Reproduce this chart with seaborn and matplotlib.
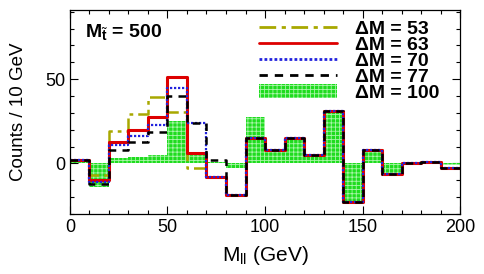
import numpy as np
import pandas as pd
import seaborn as sns
import matplotlib
matplotlib.use("Agg")
import matplotlib.pyplot as plt
from matplotlib.lines import Line2D
from matplotlib.patches import Patch

# bin edges (GeV) and per-bin counts
edges = list(range(0, 210, 10))
centers = [e + 5 for e in edges[:-1]]
tail = [15, 8, 15, 5, 31, -23, 8, -6, 0, 1, -3]  # 90-200 GeV, same for all lines
dm53 = [2, -7, 19, 29.5, 39.5, 30.5, -3, -8, -19] + tail
dm63 = [2, -10, 13, 20, 27.5, 51.5, 6, -8, -19] + tail
dm70 = [2, -11, 11, 16.5, 22.5, 45, 24, -8, -19] + tail
dm77 = [2, -12, 8, 13, 18.5, 40, 24, 2, -19] + tail
dm100 = [1.5, -14, 3, 4, 5, 25, 5, 1, -3, 27.5, 8, 15, 5, 31, -23, 8, -6, -0.5, 1, -1]

labels = ["ΔM = 53", "ΔM = 63", "ΔM = 70", "ΔM = 77", "ΔM = 100"]
colors = ["#a8a800", "#dd0000", "#2222dd", "black", "#1fdc1f"]
styles = [(0, (6, 2, 1.5, 2)), "-", (0, (1, 0.8)), (0, (3, 2.5)), None]
hatch_col = "#a8f5a8"

sns.set_style("ticks")
plt.rcParams["font.family"] = ["Liberation Sans", "DejaVu Sans"]
plt.rcParams["mathtext.fontset"] = "custom"
plt.rcParams["mathtext.rm"] = "Liberation Sans"
plt.rcParams["mathtext.bf"] = "Liberation Sans:bold"
plt.rcParams["hatch.linewidth"] = 0.6
for k in ["text.color", "axes.labelcolor", "xtick.color", "ytick.color", "axes.edgecolor"]:
    plt.rcParams[k] = "black"

df = pd.DataFrame({"x": centers, "dm53": dm53, "dm63": dm63, "dm70": dm70,
                   "dm77": dm77, "dm100": dm100})

fig = plt.figure(figsize=(4.85, 2.74), dpi=100)
ax = fig.add_axes([0.1443, 0.219, 0.8042, 0.7445])

# green filled histogram underneath
sns.histplot(data=df, x="x", weights="dm100", bins=edges, element="step",
             fill=True, facecolor=colors[4], edgecolor=hatch_col, alpha=1,
             linewidth=0, hatch="++++", ax=ax)
for col, c, ls, lw in zip(["dm53", "dm63", "dm70", "dm77"], colors[:4], styles[:4],
                          [1.8, 2.2, 1.6, 1.8]):
    sns.histplot(data=df, x="x", weights=col, bins=edges, element="step",
                 fill=False, color=c, linestyle=ls, linewidth=lw, ax=ax)

ax.set_xlim(0, 200)
ax.set_ylim(-30, 91)
ax.set_xticks([0, 50, 100, 150, 200])
ax.set_xticks(range(0, 201, 10), minor=True)
ax.set_yticks([0, 50])
ax.set_yticks(range(-30, 91, 10), minor=True)
ax.tick_params(which="both", direction="in", top=True, right=True, labelsize=13, width=0.8)
ax.tick_params(which="major", length=6)
ax.tick_params(which="minor", length=3)
for s in ax.spines.values():
    s.set_linewidth(0.9)

ax.set_xlabel("M$_{\\rm ll}$ (GeV)", fontsize=15, labelpad=6)
ax.set_ylabel("Counts / 10 GeV", fontsize=13.5, labelpad=13)

ax.text(0.038, 0.89, "$\\mathbf{M}_{\\tilde{\\mathbf{t}}}$ = 500", transform=ax.transAxes,
        fontsize=14, fontweight="bold", va="center")

handles = [Line2D([0], [0], color=c, linestyle=ls, linewidth=2) for c, ls in zip(colors[:4], styles[:4])]
handles.append(Patch(facecolor=colors[4], edgecolor=hatch_col, hatch="++++", linewidth=0))
leg = ax.legend(handles, labels, loc="upper left", bbox_to_anchor=(0.485, 0.95),
                frameon=False, borderpad=0, borderaxespad=0, labelspacing=-0.08,
                handlelength=4.0, handleheight=0.7, handletextpad=0.93,
                prop={"size": 14, "weight": "bold"})

fig.savefig("out.png", dpi=100)
